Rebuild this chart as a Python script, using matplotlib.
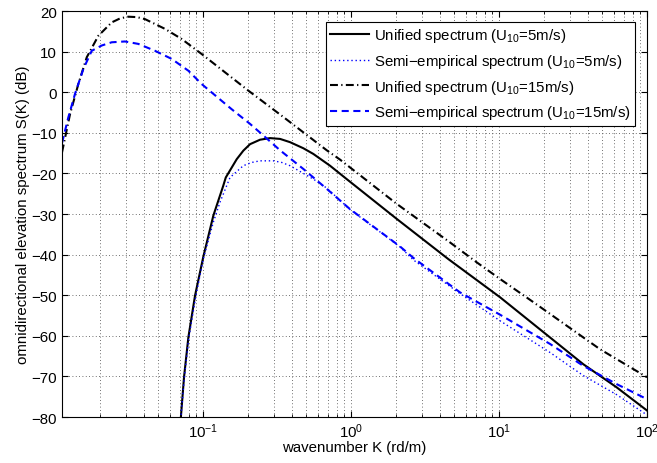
import matplotlib
matplotlib.use('Agg')
import matplotlib.pyplot as plt
import numpy as np

# wavenumber (rd/m) and spectrum level (dB) for each curve
k_unified_5 = [0.0707, 0.0744, 0.0796, 0.0883, 0.1005, 0.1174, 0.1371, 0.1425,
               0.1689, 0.1872, 0.2078, 0.2427, 0.2836, 0.3314, 0.3871, 0.4762,
               0.5563, 0.7212, 0.9352, 2.036, 4.544, 10.16, 22.11, 37.12,
               62.42, 100.0]
s_unified_5 = [-80.5, -70.2, -60.4, -50.1, -40.5, -30.4, -23.0, -21.0,
               -16.5, -14.4, -12.8, -11.7, -11.3, -11.5, -12.3, -13.8,
               -15.2, -18.1, -21.4, -31.2, -41.1, -50.5, -60.4, -67.0,
               -72.7, -78.4]

k_semi_5 = [0.0707, 0.0747, 0.0799, 0.0890, 0.1005, 0.1174, 0.1302, 0.1522,
            0.1872, 0.2132, 0.2427, 0.2985, 0.3402, 0.3871, 0.5563, 0.6853,
            0.9845, 2.144, 2.636, 5.451, 10.16, 22.11, 37.12, 62.42, 100.0]
s_semi_5 = [-80.5, -70.5, -60.8, -50.6, -41.0, -32.0, -27.1, -21.0,
            -18.1, -17.3, -16.9, -16.9, -17.3, -18.1, -21.4, -23.6,
            -28.9, -38.1, -41.3, -49.6, -56.3, -64.1, -69.8, -74.5, -79.5]

k_unified_15 = [0.01115, 0.01263, 0.01437, 0.01638, 0.01962, 0.02416, 0.02759,
                0.03128, 0.03574, 0.04055, 0.05535, 0.0718, 0.098, 0.2023,
                0.3402, 0.6853, 0.8428, 2.036, 4.667, 7.069, 10.16, 17.05,
                22.11, 37.12, 48.13, 100.0]
s_unified_15 = [-14.8, -5.4, 2.0, 8.6, 13.9, 17.2, 18.2,
                18.6, 18.5, 18.0, 15.6, 13.1, 9.4, 0.4,
                -5.8, -14.3, -16.6, -27.5, -37.0, -41.9, -46.0, -51.7,
                -54.6, -60.4, -63.3, -70.2]

k_semi_15 = [0.01115, 0.0123, 0.01365, 0.01553, 0.0177, 0.02067, 0.02416,
             0.02972, 0.03654, 0.04739, 0.06143, 0.07957, 0.098, 0.1563,
             0.2078, 0.2492, 0.3314, 0.4762, 0.6853, 0.9845, 2.144, 2.636,
             5.451, 10.16, 22.11, 37.12, 62.42, 100.0]
s_semi_15 = [-12.5, -6.2, -0.4, 5.7, 10.2, 11.5, 12.3,
             12.5, 11.9, 10.2, 8.2, 5.3, 2.0, -4.2,
             -7.8, -10.3, -14.3, -18.9, -23.8, -28.8, -38.0, -40.8,
             -49.3, -54.8, -62.0, -67.4, -71.9, -75.6]

legend_labels = ['Unified spectrum (U$_{10}$=5m/s)',
                 'Semi\u2212empirical spectrum (U$_{10}$=5m/s)',
                 'Unified spectrum (U$_{10}$=15m/s)',
                 'Semi\u2212empirical spectrum (U$_{10}$=15m/s)']


def main():
    plt.rcParams['font.family'] = ['Liberation Sans', 'DejaVu Sans']
    plt.rcParams['mathtext.fontset'] = 'custom'
    plt.rcParams['mathtext.rm'] = 'Liberation Sans'
    plt.rcParams['mathtext.it'] = 'Liberation Sans'
    plt.rcParams['font.size'] = 10.8

    fig = plt.figure(figsize=(6.57, 4.64), dpi=100)
    ax = fig.add_axes([0.0944, 0.0991, 0.8904, 0.8750])

    ax.plot(k_unified_5, s_unified_5, color='k', lw=1.5, label=legend_labels[0])
    ax.plot(k_semi_5, s_semi_5, color='b', lw=1.0, linestyle=(0, (1, 2)),
            label=legend_labels[1])
    ax.plot(k_unified_15, s_unified_15, color='k', lw=1.5,
            linestyle=(0, (3.8, 1.6, 0.6, 1.6)), label=legend_labels[2])
    ax.plot(k_semi_15, s_semi_15, color='b', lw=1.5,
            linestyle=(0, (3.4, 2.2)), label=legend_labels[3])

    ax.set_xscale('log')
    ax.set_xlim(0.01115, 100)
    ax.set_ylim(-80, 20)
    ax.set_yticks(np.arange(-80, 21, 10))

    # sparse dotted grid, minor lines only along x
    grid_style = dict(color='0.25', linestyle=(0, (1, 3)), linewidth=0.6)
    ax.grid(True, which='major', **grid_style)
    ax.grid(True, which='minor', axis='x', **grid_style)
    ax.tick_params(which='both', direction='in', top=True, right=True)
    ax.tick_params(which='major', length=4)
    ax.tick_params(which='minor', length=2)
    for spine in ax.spines.values():
        spine.set_linewidth(0.8)

    ax.set_xlabel('wavenumber K (rd/m)', labelpad=0)
    ax.set_ylabel('omnidirectional elevation spectrum S(K) (dB)', labelpad=1)

    leg = ax.legend(loc='upper right', bbox_to_anchor=(0.9795, 0.974),
                    fancybox=False, framealpha=1, edgecolor='k',
                    handlelength=2.6, handletextpad=0.3, labelspacing=0.52,
                    borderpad=0.3, borderaxespad=0)
    leg.get_frame().set_linewidth(0.8)

    fig.savefig('out.png', dpi=100)


if __name__ == '__main__':
    main()
